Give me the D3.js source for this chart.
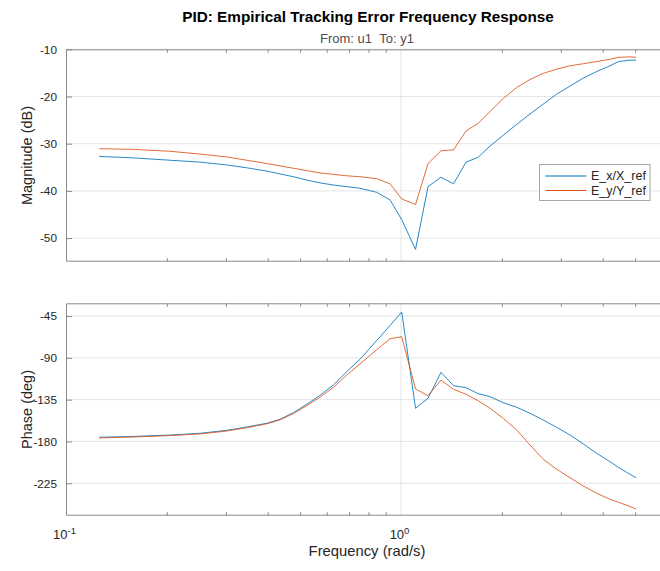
<!DOCTYPE html>
<html>
<head>
<meta charset="utf-8">
<script src="https://cdn.jsdelivr.net/npm/d3@7"></script>
<style>
  html, body { margin: 0; padding: 0; background: #fff; }
  svg { display: block; font-family: "Liberation Sans", Arial, Helvetica, sans-serif; }
</style>
</head>
<body>
<svg id="chart" width="660" height="571"></svg>
<script>
// Measured frequencies (rad/s)
const freq = [0.1257, 0.1588, 0.2043, 0.2512, 0.3018, 0.3462, 0.3973, 0.4352, 0.4771, 0.5232,
              0.5732, 0.6281, 0.6886, 0.7545, 0.8462, 0.9272, 1.005, 1.105, 1.204, 1.316,
              1.435, 1.563, 1.698, 1.844, 2.020, 2.215, 2.427, 2.659, 2.916, 3.195,
              3.501, 3.839, 4.206, 4.454, 4.827, 5.029];

// Magnitude (dB)
const magX = [-32.7, -33.0, -33.5, -33.9, -34.5, -35.1, -35.8, -36.4, -37.0, -37.7,
              -38.3, -38.75, -39.1, -39.45, -40.3, -41.9, -46.1, -52.4, -39.1, -37.1,
              -38.5, -33.9, -32.9, -30.5, -28.2, -25.9, -23.7, -21.6, -19.5, -17.8,
              -16.1, -14.7, -13.5, -12.6, -12.3, -12.3];
const magY = [-31.06, -31.2, -31.6, -32.2, -32.8, -33.5, -34.2, -34.7, -35.2, -35.7,
              -36.2, -36.5, -36.8, -37.0, -37.4, -38.5, -41.7, -42.9, -34.2, -31.5,
              -31.3, -27.3, -25.7, -23.2, -20.4, -18.1, -16.4, -15.1, -14.2, -13.5,
              -13.05, -12.6, -12.1, -11.7, -11.6, -11.7];

// Phase (deg)
const phaseX = [-175.5, -174.6, -173.1, -171.2, -168.0, -164.5, -160.4, -156.2, -149.0, -140.0,
                -130.3, -119.2, -104.9, -91.5, -71.3, -55.2, -40.7, -144.3, -133.6, -105.6,
                -120.0, -122.1, -128.5, -131.8, -138.3, -143.2, -149.7, -156.9, -164.8, -173.0,
                -182.7, -192.7, -201.8, -207.8, -215.4, -219.0];
const phaseY = [-176.2, -175.2, -173.7, -171.9, -168.8, -165.2, -161.0, -156.8, -150.0, -141.5,
                -132.3, -121.8, -108.5, -96.6, -81.2, -69.4, -67.3, -123.5, -130.8, -113.9,
                -123.9, -129.2, -136.0, -144.3, -155.1, -167.7, -183.8, -199.2, -209.9, -219.0,
                -227.9, -235.8, -242.2, -245.4, -250.0, -252.7];

const seriesNames = ["E_x/X_ref", "E_y/Y_ref"];
const seriesColors = ["#0072BD", "#D95319"];

const magTicks = [-50, -40, -30, -20, -10];
const phaseTicks = [-225, -180, -135, -90, -45];
const decadeTicks = [0.1, 1];
const minorTicks = [0.2, 0.3, 0.4, 0.5, 0.6, 0.7, 0.8, 0.9, 2, 3, 4, 5];

const titleText = "PID: Empirical Tracking Error Frequency Response";
const subtitleText = "From: u1\u00a0\u00a0To: y1";

// ---- layout ----
const L = 66, R = 661.7;
const magTop = 49.3, magBot = 261.7;
const phTop = 303.3, phBot = 515.7;
const titleX = 368;

const svg = d3.select("#chart");
const x = d3.scaleLog().domain([0.1, 6]).range([L, R]);
const yMag = d3.scaleLinear().domain([-55, -10]).range([magBot, magTop]);
const yPh = d3.scaleLinear().domain([-259.9, -31.3]).range([phBot, phTop]);

const gridColor = "#e5e5e5";
const axisColor = "#8a8a8a";
const textColor = "#262626";
const fontStack = "'Liberation Sans', Arial, Helvetica, sans-serif";

function panel(id, y, top, bot, ticks, seriesA, seriesB, label) {
  const g = svg.append("g");
  g.append("defs").append("clipPath").attr("id", id)
    .append("rect").attr("x", L).attr("y", top).attr("width", R - L).attr("height", bot - top);

  // grid
  g.append("g").selectAll("line").data(ticks).join("line")
    .attr("x1", L).attr("x2", R)
    .attr("y1", d => y(d)).attr("y2", d => y(d))
    .attr("stroke", gridColor).attr("stroke-width", 1);
  g.append("g").selectAll("line").data([1]).join("line")
    .attr("x1", d => x(d)).attr("x2", d => x(d))
    .attr("y1", top).attr("y2", bot)
    .attr("stroke", gridColor).attr("stroke-width", 1);

  // curves
  const line = d3.line().x((d, i) => x(freq[i])).y(d => y(d));
  const lines = g.append("g").attr("clip-path", `url(#${id})`);
  [seriesA, seriesB].forEach((s, k) => {
    lines.append("path").datum(s)
      .attr("d", line)
      .attr("fill", "none")
      .attr("stroke", seriesColors[k])
      .attr("stroke-width", 0.85)
      .attr("stroke-linejoin", "round");
  });

  // y axis (ticks inward)
  const ya = g.append("g").attr("transform", `translate(${L},0)`)
    .call(d3.axisLeft(y).tickValues(ticks).tickSize(-6).tickPadding(9).tickFormat(d => String(d)));
  ya.select(".domain").remove();
  ya.selectAll(".tick line").attr("stroke", axisColor);
  ya.selectAll(".tick text").attr("fill", textColor).style("font-size", "11.8px")
    .style("font-family", fontStack);

  // x ticks on bottom and top edges (inward)
  const xb = g.append("g").attr("transform", `translate(0,${bot})`)
    .call(d3.axisBottom(x).tickValues(minorTicks).tickSize(-3.5).tickFormat(""));
  xb.select(".domain").remove();
  xb.selectAll(".tick line").attr("stroke", axisColor);
  const xt = g.append("g").attr("transform", `translate(0,${top})`)
    .call(d3.axisTop(x).tickValues(minorTicks).tickSize(-3.5).tickFormat(""));
  xt.select(".domain").remove();
  xt.selectAll(".tick line").attr("stroke", axisColor);

  // box
  g.append("path")
    .attr("d", `M${R},${top + 0.5}H${L + 0.5}V${bot - 0.5}H${R}`)
    .attr("fill", "none").attr("stroke", axisColor).attr("stroke-width", 1);

  // y label
  g.append("text")
    .attr("transform", `translate(31.5,${(top + bot) / 2}) rotate(-90)`)
    .attr("text-anchor", "middle")
    .attr("fill", textColor)
    .style("font-size", "14.5px")
    .text(label);
  return g;
}

panel("clipMag", yMag, magTop, magBot, magTicks, magX, magY, "Magnitude (dB)");
panel("clipPh", yPh, phTop, phBot, phaseTicks, phaseX, phaseY, "Phase (deg)");

// decade labels under the phase panel
const xl = svg.append("g");
decadeTicks.forEach(d => {
  const exp = Math.round(Math.log10(d));
  const t = xl.append("text")
    .attr("x", x(d) - 1.5).attr("y", 539)
    .attr("text-anchor", "middle")
    .attr("fill", textColor)
    .style("font-size", "13px");
  t.append("tspan").text("10");
  t.append("tspan").attr("dy", -5).style("font-size", "9.5px").text(String(exp));
});

svg.append("text")
  .attr("x", titleX - 1).attr("y", 556)
  .attr("text-anchor", "middle").attr("fill", textColor)
  .style("font-size", "14.8px")
  .text("Frequency (rad/s)");

// titles
svg.append("text")
  .attr("x", titleX).attr("y", 22)
  .attr("text-anchor", "middle").attr("fill", "#000")
  .style("font-size", "15.3px").style("font-weight", "bold")
  .text(titleText);
svg.append("text")
  .attr("x", titleX - 1).attr("y", 42.5)
  .attr("text-anchor", "middle").attr("fill", "#4d4d4d")
  .style("font-size", "13px")
  .text(subtitleText);

// legend
const lg = svg.append("g").attr("transform", "translate(539.5,164.5)");
lg.append("rect").attr("width", 110.5).attr("height", 36)
  .attr("fill", "#fff").attr("stroke", "#a6a6a6").attr("stroke-width", 1);
seriesNames.forEach((name, i) => {
  const yy = 11.5 + i * 14.5;
  lg.append("line").attr("x1", 6).attr("x2", 47).attr("y1", yy).attr("y2", yy)
    .attr("stroke", seriesColors[i]).attr("stroke-width", 1);
  lg.append("text").attr("x", 51.5).attr("y", yy + 4.3)
    .attr("fill", textColor).style("font-size", "12.5px").text(name);
});
</script>
</body>
</html>
